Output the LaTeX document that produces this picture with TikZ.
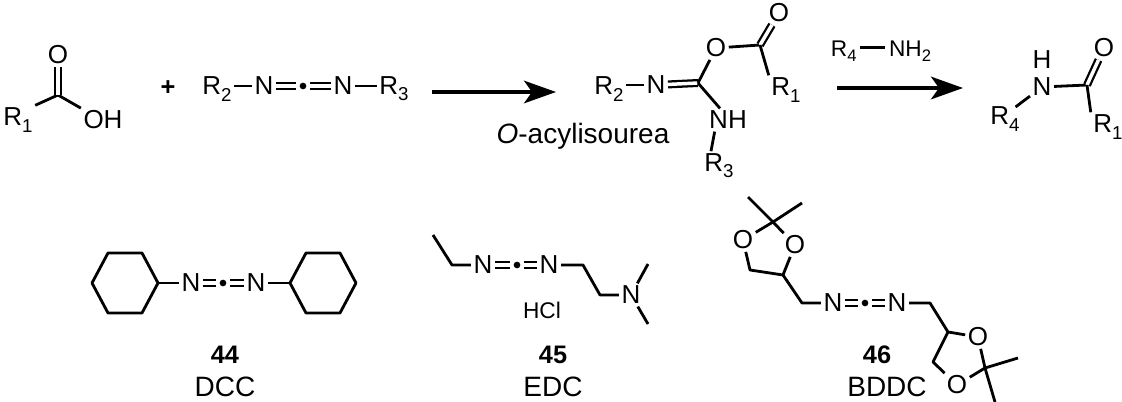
\documentclass[tikz,border=0pt]{standalone}
\usepackage{fontspec}
\setmainfont{Liberation Sans}
\usetikzlibrary{arrows.meta}
\newcommand\chsub[1]{\raisebox{-0.45ex}{\fontsize{14}{15}\selectfont #1}}
\newcommand\chsubs[1]{\raisebox{-0.45ex}{\fontsize{12.5}{14}\selectfont #1}}
\tikzset{
  atom/.style={inner sep=1.8pt, font=\fontsize{19.5}{22}\selectfont},
  small/.style={inner sep=1.6pt, font=\fontsize{17}{19}\selectfont},
  dotn/.style={circle, fill, inner sep=0pt, minimum size=5pt, outer sep=2.8pt},
  bond/.style={line width=2.1pt},
  dbl/.style={double, double distance=2.6pt, line width=1.7pt},
  rxn/.style={line width=2.3pt, -{Stealth[length=24pt, width=17pt, inset=6pt]}},
  lbl/.style={inner sep=0pt, font=\fontsize{21}{24}\selectfont},
  num/.style={inner sep=0pt, font=\bfseries\fontsize{19}{22}\selectfont},
}
\begin{document}
\begin{tikzpicture}[x=0.75pt, y=-0.75pt]
\useasboundingbox (0,0) rectangle (1122,402);
% acid
\node[atom] (aO) at (58,55) {O};
\coordinate (aC) at (58,95);
\node[atom] (aR) at (18,120) {R\chsub{1}};
\node[atom] (aOH) at (103,120) {OH};
\draw[bond] (aR.north east) -- (aC) -- (aOH.north west);
\draw[dbl] (aC) -- (aO);
\node[num] (plus) at (168,88) {+};
% carbodiimide
\node[atom] (tR2) at (217,89) {R\chsub{2}};
\node[atom] (tN1) at (264,86) {N};
\node[dotn] (tD) at (303,86) {};
\node[atom] (tN2) at (343,86) {N};
\node[atom] (tR3) at (394,89) {R\chsub{3}};
\draw[bond] (tR2.east |- tN1) -- (tN1);
\draw[bond] (tN2) -- (tR3.west |- tN2);
\draw[dbl] (tN1) -- (tD); \draw[dbl] (tD) -- (tN2);
\coordinate (a1s) at (432,92); \coordinate (a1e) at (556,92);
\draw[rxn] (a1s) -- (a1e);
% O-acylisourea
\node[atom] (iR2) at (609,89) {R\chsub{2}};
\node[atom] (iN) at (656,85) {N};
\coordinate (iC) at (698,83);
\node[atom] (iO) at (716,48) {O};
\coordinate (iC2) at (760,45);
\node[atom] (iO2) at (779,13) {O};
\node[atom] (iR1) at (786,90) {R\chsub{1}};
\node[atom] (iNH) at (728,120) {NH};
\node[atom] (iR3) at (719,166) {R\chsub{3}};
\draw[bond] (iR2.east |- iN) -- (iN);
\draw[dbl] (iN) -- (iC);
\draw[bond] (iC) -- (iO); \draw[bond] (iO) -- (iC2);
\draw[dbl] (iC2) -- (iO2);
\draw[bond] (iC2) -- (iR1.north west);
\draw[bond] (iC) -- ([xshift=-6]iNH.north);
\draw[bond] ([xshift=-10]iNH.south) -- ([xshift=-6]iR3.north);
\node[lbl] (oacyl) at (583,136) {\textit{O}-acylisourea};
% second arrow
\node[small] (r4nh2) at (881,51) {R\chsubs{4}\,\rule[0.33em]{1.1em}{1.8pt}\,NH\chsubs{2}};
\coordinate (a2s) at (837,88); \coordinate (a2e) at (963,88);
\draw[rxn] (a2s) -- (a2e);
% amide
\node[atom] (mH) at (1042,60) {H};
\node[atom] (mN) at (1042,87) {N};
\coordinate (mC) at (1087,85);
\node[atom] (mO) at (1104,48) {O};
\node[atom] (mR1) at (1108,127) {R\chsub{1}};
\node[atom] (mR4) at (1005,119) {R\chsub{4}};
\draw[bond] (mN) -- (mC);
\draw[dbl] (mC) -- (mO);
\draw[bond] (mC) -- (mR1.north west);
\draw[bond] (mN) -- ([xshift=-5,yshift=-2]mR4.north east);
% DCC
\foreach \cx in {125,323}{
  \draw[bond, line join=round] (\cx+33,283) -- (\cx+17,253) -- (\cx-17,253) -- (\cx-33,283) -- (\cx-17,313) -- (\cx+17,313) -- cycle;
}
\coordinate (dL) at (158,283); \coordinate (dR) at (290,283);
\node[atom] (dN1) at (191,283) {N};
\node[dotn] (dD) at (223,283) {};
\node[atom] (dN2) at (256,283) {N};
\draw[bond] (dL) -- (dN1); \draw[bond] (dN2) -- (dR);
\draw[dbl] (dN1) -- (dD); \draw[dbl] (dD) -- (dN2);
\node[num] (l44) at (225,355) {44};
\node[lbl] (ldcc) at (225,387) {DCC};
% EDC
\coordinate (e1) at (433,235); \coordinate (e2) at (452,265);
\node[atom] (eN1) at (483,265) {N};
\node[dotn] (eD) at (517,265) {};
\node[atom] (eN2) at (549,265) {N};
\coordinate (e3) at (583,265); \coordinate (e4) at (600,295);
\node[atom] (eN3) at (631,295) {N};
\coordinate (e5) at (648,264); \coordinate (e6) at (648,324);
\draw[bond, line join=round] (e1) -- (e2) -- (eN1);
\draw[dbl] (eN1) -- (eD); \draw[dbl] (eD) -- (eN2);
\draw[bond, line join=round] (eN2) -- (e3) -- (e4) -- (eN3);
\draw[bond] (eN3) -- (e5); \draw[bond] (eN3) -- (e6);
\node[small] (hcl) at (542,310) {HCl};
\node[num] (l45) at (553,355) {45};
\node[lbl] (ledc) at (553,387) {EDC};
% BDDC
\coordinate (bq) at (773,222); \coordinate (bm1) at (748,197); \coordinate (bm2) at (802,203);
\node[atom] (bO1) at (743,240) {O};
\node[atom] (bO2) at (795,245) {O};
\coordinate (bc1) at (750,270); \coordinate (bch) at (783,275);
\coordinate (bc2) at (802,303);
\node[atom] (bN1) at (833,303) {N};
\node[dotn] (bD) at (865,303) {};
\node[atom] (bN2) at (897,303) {N};
\coordinate (bc3) at (930,303); \coordinate (bch2) at (948,332);
\node[atom] (bO3) at (978,337) {O};
\node[atom] (bO4) at (957,385) {O};
\coordinate (bc4) at (933,362); \coordinate (bq2) at (985,368);
\coordinate (bm3) at (1018,358); \coordinate (bm4) at (995,402);
\begin{scope}[line join=round]
\draw[bond] (bm1) -- (bq) -- (bm2);
\draw[bond] (bq) -- (bO1); \draw[bond] (bq) -- (bO2);
\draw[bond] (bO1) -- (bc1) -- (bch) -- (bO2);
\draw[bond] (bch) -- (bc2) -- (bN1);
\draw[dbl] (bN1) -- (bD); \draw[dbl] (bD) -- (bN2);
\draw[bond] (bN2) -- (bc3) -- (bch2) -- (bO3);
\draw[bond] (bch2) -- (bc4) -- (bO4);
\draw[bond] (bO4) -- (bq2); \draw[bond] (bO3) -- (bq2);
\draw[bond] (bm3) -- (bq2) -- (bm4);
\end{scope}
\node[num] (l46) at (877,355) {46};
\node[lbl] (lbddc) at (887,387) {BDDC};
\end{tikzpicture}
\end{document}
